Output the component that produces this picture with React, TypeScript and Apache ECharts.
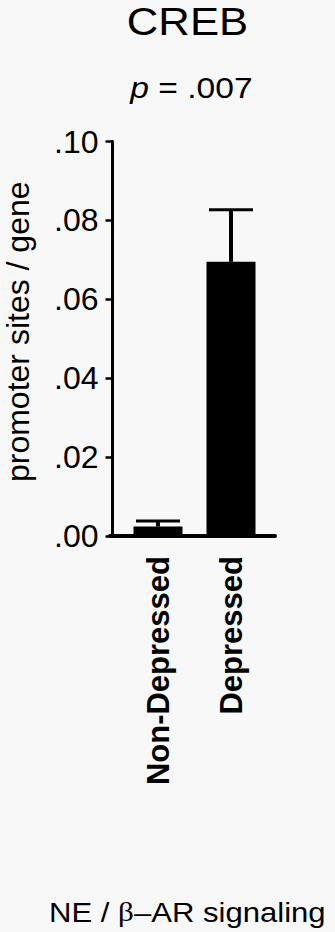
import React, { useEffect, useRef } from 'react';
import * as echarts from 'echarts';

const categories = ['Non-Depressed', 'Depressed'];
const means = [0.0024, 0.0695];
const upperErrors = [0.0038, 0.0827];
const yTickLabels = ['.00', '.02', '.04', '.06', '.08', '.10'];
const yMin = 0;
const yMax = 0.1;
const yInterval = 0.02;
const titleText = 'CREB';
const pValueText = '.007';
const yAxisTitle = 'promoter sites / gene';
const footerPre = 'NE / ';
const footerBeta = 'β';
const footerPost = '\u2013AR signaling';

export default function App() {
  const ref = useRef<HTMLDivElement>(null);
  useEffect(() => {
    document.body.style.margin = '0';
    document.body.style.background = '#f8f8f8';
    const chart = echarts.init(ref.current!, null, { renderer: 'svg' });
    const font = 'Arial, "Liberation Sans", Helvetica, sans-serif';
    chart.setOption({
      animation: false,
      backgroundColor: '#f8f8f8',
      textStyle: { fontFamily: font, color: '#000' },
      grid: [
        { left: 121.5, right: 67.5, top: 141.5, bottom: 396 },
        { left: 110, right: 60, top: 141.5, bottom: 396 },
      ],
      xAxis: [
        {
          type: 'category',
          gridIndex: 0,
          data: categories,
          axisLine: { show: false },
          axisTick: { show: false },
          axisLabel: {
            rotate: 90,
            margin: 20,
            fontSize: 31,
            fontWeight: 'bold',
            color: '#000',
            fontFamily: font,
          },
        },
        {
          type: 'category',
          gridIndex: 1,
          data: [''],
          axisLine: { show: true, lineStyle: { color: '#000', width: 4 } },
          axisTick: { show: false },
          axisLabel: { show: false },
        },
      ],
      yAxis: [
        {
          type: 'value',
          gridIndex: 0,
          min: yMin,
          max: yMax,
          interval: yInterval,
          offset: 9,
          splitLine: { show: false },
          axisLine: { show: true, lineStyle: { color: '#000', width: 3 } },
          axisTick: { show: true, length: 7, lineStyle: { color: '#000', width: 2.5 } },
          axisLabel: {
            margin: 14,
            fontSize: 32,
            color: '#000',
            fontFamily: font,
            formatter: (v: number) => yTickLabels[Math.round((v - yMin) / yInterval)],
          },
          name: yAxisTitle,
          nameLocation: 'middle',
          nameRotate: 90,
          nameGap: 79,
          nameTextStyle: { fontSize: 32, color: '#000', fontFamily: font, padding: [0, 0, 0, 14] },
        },
        { type: 'value', gridIndex: 1, min: yMin, max: yMax, show: false },
      ],
      series: [
        {
          type: 'bar',
          xAxisIndex: 0,
          yAxisIndex: 0,
          data: means,
          barWidth: 49,
          itemStyle: { color: '#000' },
          z: 2,
        },
        {
          type: 'custom',
          xAxisIndex: 0,
          yAxisIndex: 0,
          z: 3,
          data: categories.map((_, i) => [i, means[i], upperErrors[i]]),
          renderItem: (params: any, api: any) => {
            const base = api.coord([api.value(0), api.value(1)]);
            const top = api.coord([api.value(0), api.value(2)]);
            const half = 22;
            return {
              type: 'group',
              children: [
                {
                  type: 'line',
                  shape: { x1: base[0], y1: base[1], x2: top[0], y2: top[1] },
                  style: { stroke: '#000', lineWidth: 4 },
                },
                {
                  type: 'line',
                  shape: { x1: top[0] - half, y1: top[1], x2: top[0] + half, y2: top[1] },
                  style: { stroke: '#000', lineWidth: 3 },
                },
              ],
            };
          },
        },
      ],
      graphic: [
        {
          type: 'text',
          x: 187.5,
          y: 22.5,
          scaleX: 1.15,
          style: {
            text: titleText,
            fontSize: 38,
            fontFamily: font,
            fill: '#000',
            align: 'center',
            verticalAlign: 'middle',
          },
        },
        {
          type: 'text',
          x: 191.5,
          y: 88,
          scaleX: 1.12,
          style: {
            text: '{i|p} = ' + pValueText,
            fontSize: 30,
            fontFamily: font,
            fill: '#000',
            align: 'center',
            verticalAlign: 'middle',
            rich: {
              i: { fontStyle: 'italic', fontSize: 30, fontFamily: font, fill: '#000' },
            },
          },
        },
        {
          type: 'text',
          x: 49,
          y: 911.7,
          scaleX: 1.11,
          style: {
            text: footerPre + '{b|' + footerBeta + '}' + footerPost,
            fontSize: 28,
            fontFamily: font,
            fill: '#000',
            align: 'left',
            verticalAlign: 'middle',
            rich: {
              b: { fontSize: 28, fontFamily: '"Liberation Serif", serif', fill: '#000' },
            },
          },
        },
      ],
    });
    return () => chart.dispose();
  }, []);
  return (
    <div
      ref={ref}
      style={{ position: 'absolute', left: 0, top: 0, width: 335, height: 932, background: '#f8f8f8' }}
    />
  );
}
